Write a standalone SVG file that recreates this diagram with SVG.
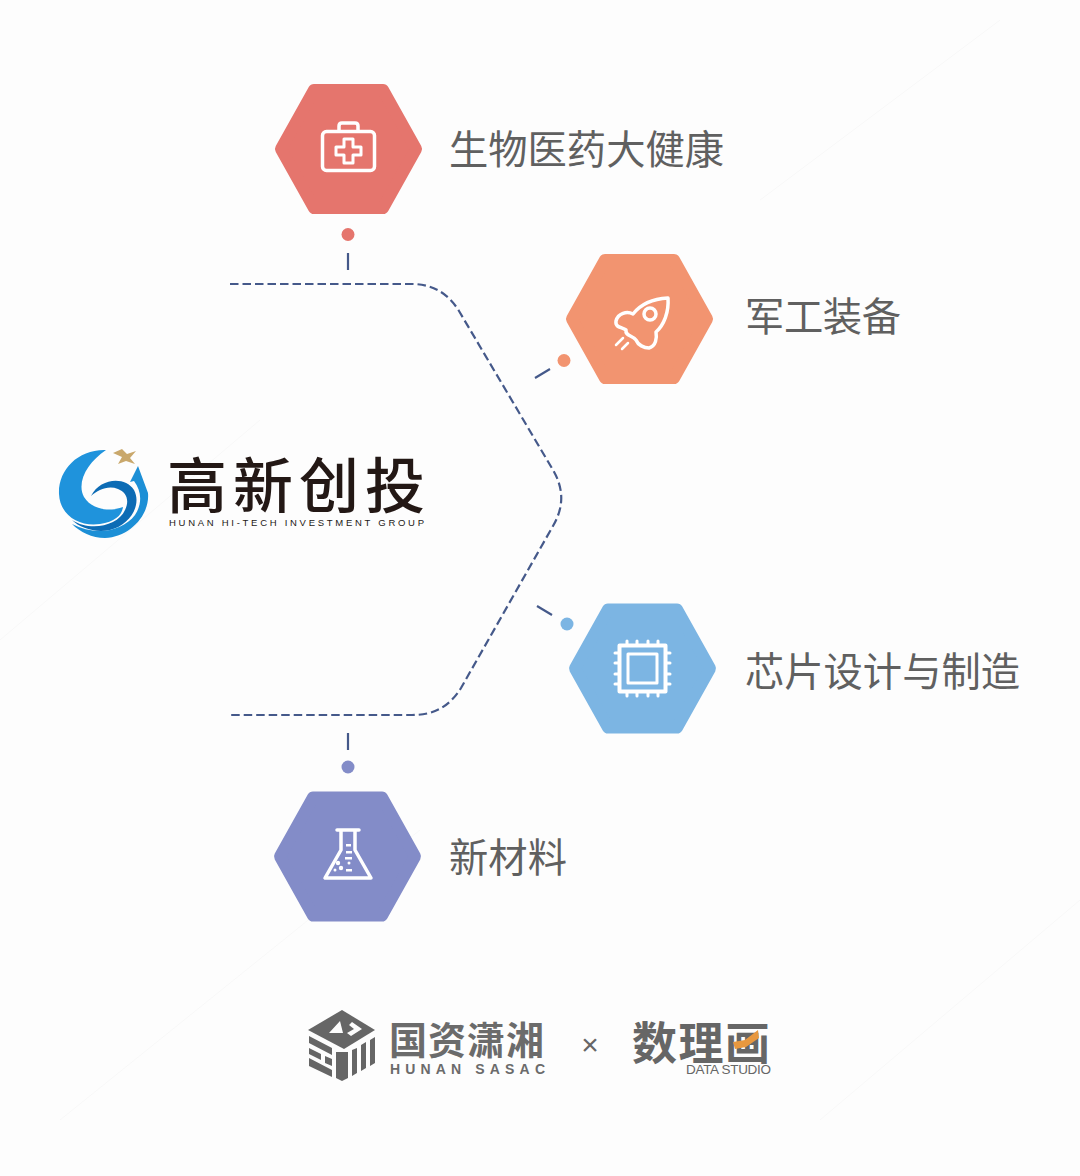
<svg xmlns="http://www.w3.org/2000/svg" width="1080" height="1176" viewBox="0 0 1080 1176">
<style>
.cjk{font-family:"Noto Sans CJK SC","Noto Sans",sans-serif}
.label{font-size:39.3px;font-weight:400;fill:#606060}
.latin{font-family:"Liberation Sans",Arial,sans-serif}
.ico{fill:none;stroke:#fff;stroke-width:3.5;stroke-linejoin:round;stroke-linecap:round}
.dash{fill:none;stroke:#45598a;stroke-width:2.2;stroke-dasharray:8.500 4}
.tick{fill:none;stroke:#45598a;stroke-width:2.2}
.hex{stroke-width:12;stroke-linejoin:round}
.grey{fill:#666}
</style>
<defs>
<polygon id="hexagon" points="-67.500,0 -34.500,-59 34.500,-59 67.500,0 34.500,59 -34.500,59"/>
<linearGradient id="sw" x1="0" y1="0" x2="0" y2="1"><stop offset="0" stop-color="#1c8fd6"/><stop offset="1" stop-color="#45b5ec"/></linearGradient>
</defs>
<rect width="1080" height="1176" fill="#fdfdfd"/>
<g stroke="#f8f8f8" stroke-width="1" fill="none">
<path d="M0 640L260 420M60 1120L420 830M760 200L1000 20M820 1120L1080 900"/>
</g>

<g id="connectors">
<path class="dash" d="M230 284H412C432 284 448 293 459 311L553 470C564 489 564 507 553 526L461 688C449 707 434 715 412 715H230"/>
<path class="tick" d="M348 253V270M535 378L550 369M537 606L552 615M348 733V750"/>
</g>

<g id="node-biomed">
<use href="#hexagon" x="348.500" y="149" class="hex" fill="#e5756d" stroke="#e5756d"/>
<circle cx="348" cy="234.500" r="6.500" fill="#e5756d"/>
<g class="ico">
<rect x="322.500" y="131.500" width="52" height="39" rx="4"/>
<path d="M339 131V126Q339 123 342 123H355Q358 123 358 126V131"/>
<path d="M344 139H353V147H361V155H353V163H344V155H336V147H344Z" stroke-width="3"/>
</g>
<text class="cjk label" x="449" y="164" textLength="275">生物医药大健康</text>
</g>

<g id="node-military">
<use href="#hexagon" x="639.500" y="319" class="hex" fill="#f29470" stroke="#f29470"/>
<circle cx="564" cy="360.500" r="6.500" fill="#f29470"/>
<g class="ico">
<path d="M668 298C650 299 640 305 633 314C627 311 618 313 616 321C615 328 622 327 626 330C625 336 632 335 636 340C638 345 644 348 649 348C656 346 657 338 656 332C664 325 669 312 668 298Z"/>
<circle cx="650" cy="314" r="6"/>
<path d="M616 345L623 338M622 349L628 343" stroke-width="2.500"/>
</g>
<text class="cjk label" x="745" y="331" textLength="156">军工装备</text>
</g>

<g id="node-chip">
<use href="#hexagon" x="642.500" y="668.500" class="hex" fill="#7cb5e3" stroke="#7cb5e3"/>
<circle cx="567" cy="624" r="6.500" fill="#7cb5e3"/>
<g class="ico">
<rect x="619.500" y="645.500" width="46" height="46" stroke-width="4"/>
<rect x="628" y="654" width="29" height="29" stroke-width="3"/>
<path stroke-width="3" d="M627 641V645M637 641V645M648 641V645M658 641V645M627 692V696M637 692V696M648 692V696M658 692V696M615 653H619M615 663H619M615 674H619M615 684H619M666 653H670M666 663H670M666 674H670M666 684H670"/>
</g>
<text class="cjk label" x="745" y="686" textLength="275">芯片设计与制造</text>
</g>

<g id="node-material">
<use href="#hexagon" x="347.500" y="856.500" class="hex" fill="#838cc8" stroke="#838cc8"/>
<circle cx="348" cy="767" r="6.500" fill="#838cc8"/>
<g class="ico">
<path d="M337 830H359M341 830V850L325 878H371L355 850V830"/>
</g>
<g fill="#fff">
<rect x="346" y="844" width="5" height="2.500"/><rect x="346" y="851" width="6" height="2.500"/><rect x="345" y="857" width="7" height="2.500"/><circle cx="338" cy="863" r="2.200"/><circle cx="341" cy="868" r="2.200"/><rect x="346" y="869" width="6" height="2.500"/><circle cx="349" cy="863" r="1.500"/><circle cx="335" cy="870" r="1.500"/>
</g>
<text class="cjk label" x="449" y="872" textLength="118">新材料</text>
</g>

<g id="node-hitech">
<path fill="#1f93dc" d="M106 450C78 449 58 470 59 494C60 516 80 527 100 524C115 522 122 515 123 507C110 512 92 510 84 497C76 482 88 462 106 450Z"/>
<path fill="#0d6cb5" d="M72 520C90 532 118 526 125 510C130 500 126 492 118 489C108 485 98 490 91 496C100 478 125 476 134 490C142 505 130 525 110 530C95 533 80 528 72 520Z"/>
<path fill="#1c8fd6" d="M138 466L148 493C150 515 130 537 105 538C92 538 80 532 72 524C95 536 122 532 135 515C143 503 141 490 134 481L130 482Z"/>
<polygon fill="#c9a86c" points="122,449 127,454 136,451 130,458 135,464 126,461 118,464 122,457 113,453"/>
<text class="cjk" x="167" y="508" font-size="60" font-weight="500" fill="#231815" textLength="258">高新创投</text>
<text class="latin" x="169" y="526" font-size="9.500" fill="#231815" textLength="255">HUNAN HI-TECH INVESTMENT GROUP</text>
</g>

<g id="logo-sasac">
<path class="grey" d="M342 1010L375 1030L344 1049L308 1030Z"/>
<path fill="#fdfdfd" d="M340 1021L329 1033H343ZM352 1022L362 1029L351 1036L347 1033L354 1029L349 1025Z"/>
<path class="grey" d="M309 1036L332 1048V1055L309 1043ZM309 1048L321 1054V1060L309 1054ZM325 1056L332 1059V1066L325 1063ZM309 1058L332 1070V1077L309 1066ZM336 1052H348V1078L342 1081L336 1078ZM352 1050L357 1048V1073L352 1076ZM361 1045L366 1042V1068L361 1071ZM370 1040L375 1037V1063L370 1066Z"/>
<text class="cjk" x="389" y="1054" font-size="38" font-weight="700" fill="#6b6b6b" textLength="155">国资潇湘</text>
<text class="latin" x="390" y="1074" font-size="14" font-weight="700" fill="#6b6b6b" textLength="155">HUNAN SASAC</text>
</g>
<text id="times" class="latin" x="590" y="1055" font-size="30" text-anchor="middle" fill="#666">×</text>
<g id="logo-datastudio">
<text class="cjk" x="632" y="1060" font-size="45" font-weight="700" fill="#666" textLength="138">数理画</text>
<polygon fill="#e8983f" points="733,1042 745,1040 758,1030 759,1038 746,1047 735,1049"/>
<text class="latin" x="686" y="1074" font-size="13.500" fill="#666" textLength="85">DATA STUDIO</text>
</g>
</svg>
